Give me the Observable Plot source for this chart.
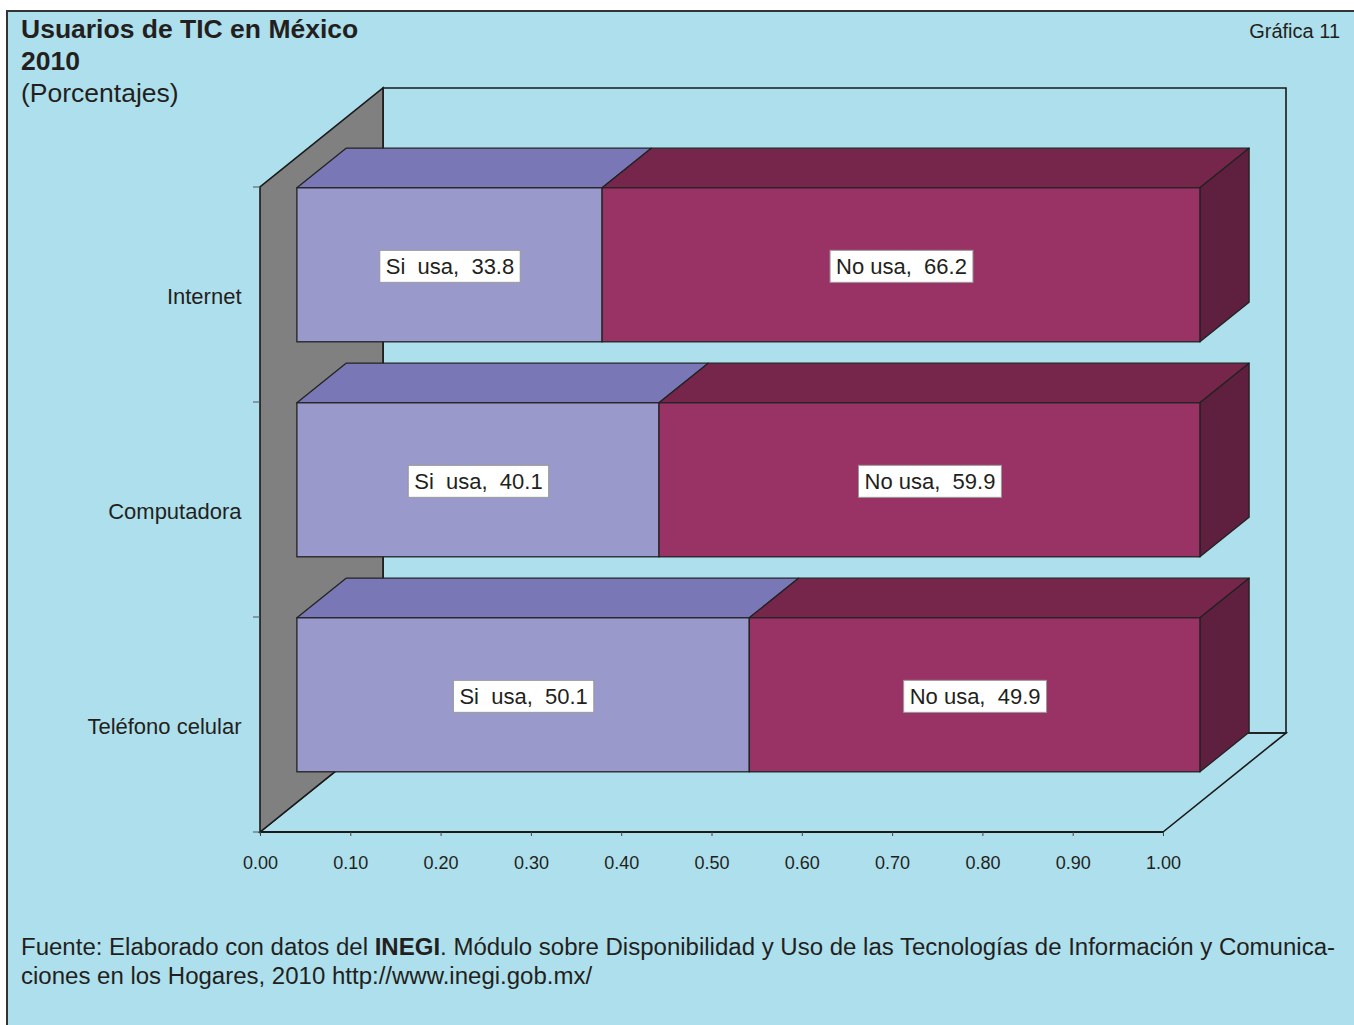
<!DOCTYPE html>
<html><head><meta charset="utf-8">
<script src="https://cdn.jsdelivr.net/npm/d3@7"></script>
<script src="https://cdn.jsdelivr.net/npm/@observablehq/plot@0.6"></script>
<style>
html,body{margin:0;padding:0;background:#fff;overflow:hidden;}
#wrap{position:relative;width:1354px;height:1025px;overflow:hidden;font-family:"Liberation Sans",Arial,sans-serif;color:#231f20;}
#frame{position:absolute;left:6px;top:10px;width:1400px;height:1100px;background:#aedfec;border:2px solid #333;}
#chart{position:absolute;left:0;top:0;}
.t{position:absolute;white-space:nowrap;line-height:1;}
</style></head><body>
<div id="wrap">
  <div id="frame"></div>
  <div id="chart"></div>
  <div class="t" style="left:21px;top:16px;font-size:26.5px;font-weight:bold;">Usuarios de TIC en México</div>
  <div class="t" style="left:21px;top:48px;font-size:26.5px;font-weight:bold;">2010</div>
  <div class="t" style="left:21px;top:80px;font-size:26.5px;">(Porcentajes)</div>
  <div class="t" style="right:14px;top:21px;font-size:20px;">Gráfica 11</div>
  <div class="t foot" id="f1" style="left:21px;top:935.5px;font-size:23px;transform-origin:0 0;">Fuente: Elaborado con datos del <b>INEGI</b>. Módulo sobre Disponibilidad y Uso de las Tecnologías de Información y Comunica-</div>
  <div class="t foot" id="f2" style="left:21px;top:964.5px;font-size:23px;transform-origin:0 0;">ciones en los Hogares, 2010 http://www.inegi.gob.mx/</div>
</div>
<script>
// ---- data ----
const categories = ["Internet", "Computadora", "Teléfono celular"];
const series = ["Si usa", "No usa"];
const siUsa = [33.8, 40.1, 50.1];
const noUsa = [66.2, 59.9, 49.9];
const xTicks = [0, 0.1, 0.2, 0.3, 0.4, 0.5, 0.6, 0.7, 0.8, 0.9, 1.0];
const labelNames = {"Si usa": "Si\u00a0 usa,\u00a0 ", "No usa": "No usa,\u00a0 "};

// ---- styles ----
const frontColor = ["#9999cc", "#993366"];
const topColor = {"Si usa": "#7a77b7", "No usa": "#77264b"};
const sideColor = {"Si usa": "#6a67a0", "No usa": "#5f1f3e"};
const DX = 123, DY = -99;       // full depth vector (px)
const F = 0.3, B = 0.7;         // bar depth range (fraction of depth)
const INSET = 30.5;

// ---- table ----
const stacked = [];
categories.forEach((c, i) => {
  const vals = {"Si usa": siUsa[i], "No usa": noUsa[i]};
  let acc = 0;
  for (const s of series) {
    stacked.push({cat: c, serie: s, pct: vals[s], x1: acc / 100, x2: (acc + vals[s]) / 100});
    acc += vals[s];
  }
});

function bw(y) {
  return y.bandwidth ? y.bandwidth() : (y(categories[1]) - y(categories[0]));
}
const pts = a => a.map(p => p.join(",")).join(" ");

// walls and floor
function wallsMark(index, {x, y}) {
  const g = d3.create("svg:g");
  const X0 = x(0), X1 = x(1);
  const yT = y(categories[0]);
  const yB = y(categories[categories.length - 1]) + bw(y);
  g.append("polygon").attr("points", pts([[X0 + DX, yT + DY], [X1 + DX, yT + DY], [X1 + DX, yB + DY], [X0 + DX, yB + DY]]))
    .attr("fill", "none").attr("stroke", "#1a1a1a").attr("stroke-width", 1.6);
  g.append("polygon").attr("points", pts([[X0, yB], [X1, yB], [X1 + DX, yB + DY], [X0 + DX, yB + DY]]))
    .attr("fill", "none").attr("stroke", "#1a1a1a").attr("stroke-width", 1.6);
  g.append("polygon").attr("points", pts([[X0, yB], [X0, yT], [X0 + DX, yT + DY], [X0 + DX, yB + DY]]))
    .attr("fill", "#808080").attr("stroke", "#1a1a1a").attr("stroke-width", 1.6);
  g.append("line").attr("x1", X0).attr("x2", X1).attr("y1", yB).attr("y2", yB)
    .attr("stroke", "#1a1a1a").attr("stroke-width", 2);
  return g.node();
}

// y ticks on band boundaries
function yTickMark(index, {x, y}) {
  const g = d3.create("svg:g");
  const X0 = x(0);
  const b = bw(y);
  const yT = y(categories[0]);
  for (let i = 0; i <= categories.length; i++) {
    const yy = yT + i * b;
    g.append("line").attr("x1", X0 - 7).attr("x2", X0).attr("y1", yy).attr("y2", yy)
      .attr("stroke", "#555").attr("stroke-width", 1);
  }
  return g.node();
}

// top and side faces of the bars
function barFacesMark(index, {x, y}) {
  const g = d3.create("svg:g");
  const b = bw(y);
  for (const c of categories) {
    const segs = stacked.filter(d => d.cat === c);
    const top = y(c) + INSET, bot = y(c) + b - INSET;
    segs.forEach((d, k) => {
      const a = x(d.x1), e = x(d.x2);
      g.append("polygon").attr("points", pts([
        [a + F * DX, top + F * DY], [e + F * DX, top + F * DY],
        [e + B * DX, top + B * DY], [a + B * DX, top + B * DY]]))
        .attr("fill", topColor[d.serie]).attr("stroke", "#222").attr("stroke-width", 1.3).attr("stroke-linejoin", "round");
      if (k === segs.length - 1) {
        g.append("polygon").attr("points", pts([
          [e + F * DX, top + F * DY], [e + B * DX, top + B * DY],
          [e + B * DX, bot + B * DY], [e + F * DX, bot + F * DY]]))
          .attr("fill", sideColor[d.serie]).attr("stroke", "#222").attr("stroke-width", 1.3).attr("stroke-linejoin", "round");
      }
    });
  }
  return g.node();
}

const plot = Plot.plot({
  width: 1354,
  height: 900,
  marginLeft: 260,
  marginRight: 191,
  marginTop: 187,
  marginBottom: 68,
  style: {background: "transparent", fontFamily: "'Liberation Sans', Arial, sans-serif", color: "#231f20", overflow: "visible"},
  x: {domain: [0, 1]},
  y: {type: "band", domain: categories, padding: 0},
  color: {domain: series, range: frontColor},
  marks: [
    wallsMark,
    Plot.axisX({ticks: xTicks, tickFormat: d3.format(".2f"), tickSize: 4, tickPadding: 20, fontSize: 18, label: null, stroke: "#444", fill: "#231f20"}),
    Plot.axisY({tickSize: 0, tickPadding: 19, fontSize: 22, label: null, fill: "#231f20", dy: 2}),
    yTickMark,
    barFacesMark,
    Plot.barX(stacked, {x1: "x1", x2: "x2", y: "cat", fill: "serie", stroke: "#222", strokeWidth: 1.3,
      insetTop: INSET, insetBottom: INSET, dx: F * DX, dy: F * DY}),
    Plot.text(stacked, {x: d => (d.x1 + d.x2) / 2, y: "cat", text: d => labelNames[d.serie] + d.pct.toFixed(1),
      dx: F * DX, dy: F * DY + 1.5, fontSize: 22, fill: "#231f20", ariaDescription: "bar-label"})
  ]
});
document.getElementById("chart").appendChild(plot);

// white label boxes
let lg = plot.querySelector('g[aria-description="bar-label"]') || plot.querySelector('g[aria-label="text"]');
if (lg) {
  lg.querySelectorAll("text").forEach(t => {
    const bb = t.getBBox();
    const tr = t.getAttribute("transform");
    const r = document.createElementNS("http://www.w3.org/2000/svg", "rect");
    r.setAttribute("x", bb.x - 6);
    r.setAttribute("y", bb.y + bb.height / 2 - 16);
    r.setAttribute("width", bb.width + 12);
    r.setAttribute("height", 32);
    r.setAttribute("fill", "#fff");
    r.setAttribute("stroke", "#999");
    r.setAttribute("stroke-width", 1);
    if (tr) r.setAttribute("transform", tr);
    t.parentNode.insertBefore(r, t);
  });
}

// fit the footer to its line width
const f1 = document.getElementById("f1"), f2 = document.getElementById("f2");
const w1 = f1.getBoundingClientRect().width;
const s = 1314 / w1;
f1.style.transform = `scaleX(${s})`;
f2.style.transform = `scaleX(${s})`;
</script>
</body></html>
